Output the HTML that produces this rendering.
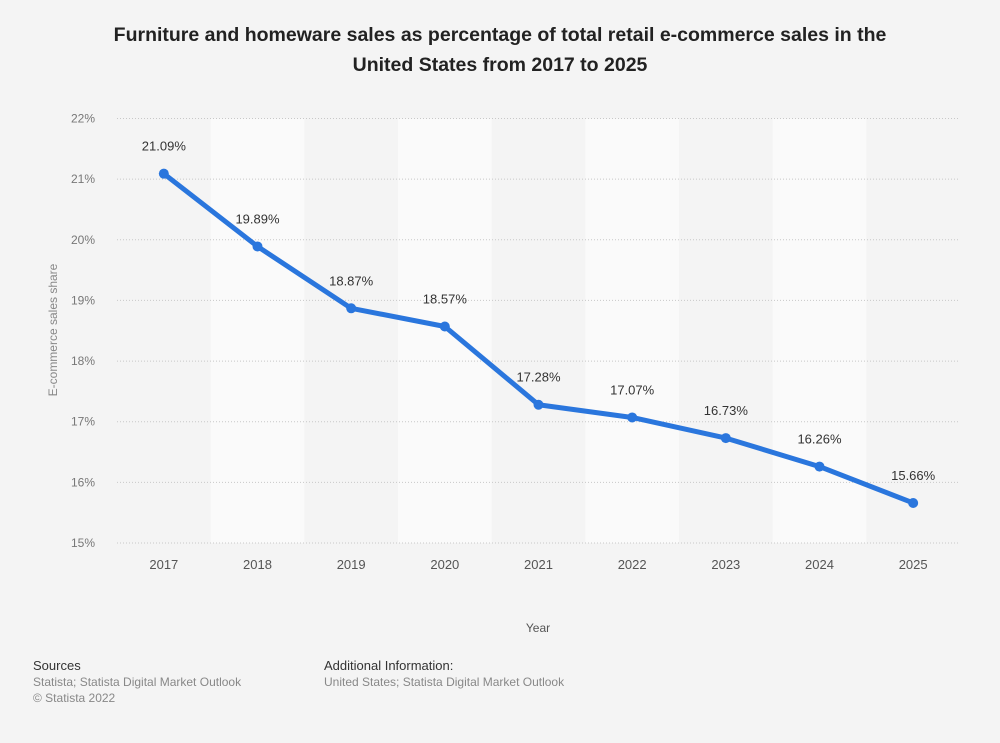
<!DOCTYPE html>
<html><head><meta charset="utf-8"><style>
body{margin:0;background:#f4f4f4;font-family:"Liberation Sans",Arial,sans-serif;}
#wrap{position:relative;width:1000px;height:743px;overflow:hidden;background:#f4f4f4;}
h1{position:absolute;left:0;top:20px;width:1000px;margin:0;text-align:center;font-size:19.5px;line-height:30px;font-weight:bold;color:#222;}
.ft{position:absolute;font-size:12px;color:#888;line-height:16px;}
.ft b{font-weight:normal;color:#333;font-size:13px;}
</style></head><body>
<div id="wrap">
<h1>Furniture and homeware sales as percentage of total retail e-commerce sales in the<br>United States from 2017 to 2025</h1>
<svg id="chart" width="1000" height="743" style="position:absolute;left:0;top:0"></svg>
<div class="ft" style="left:33px;top:658px"><b>Sources</b><br>Statista; Statista Digital Market Outlook<br>© Statista 2022</div>
<div class="ft" style="left:324px;top:658px"><b>Additional Information:</b><br>United States; Statista Digital Market Outlook</div>
</div>
<script>
const categories=["2017","2018","2019","2020","2021","2022","2023","2024","2025"];
const values=[21.09,19.89,18.87,18.57,17.28,17.07,16.73,16.26,15.66];
const valueLabels=["21.09%","19.89%","18.87%","18.57%","17.28%","17.07%","16.73%","16.26%","15.66%"];
const yTicks=[15,16,17,18,19,20,21,22];
const svg=document.getElementById('chart');
const NS='http://www.w3.org/2000/svg';
const L=117,R=960,T=118.5,B=543;
const band=(R-L)/categories.length;
const x=i=>L+band*(i+0.5);
const y=v=>B-(v-15)/(22-15)*(B-T);
function mk(t,a){const e=document.createElementNS(NS,t);for(const k in a)e.setAttribute(k,a[k]);svg.appendChild(e);return e;}
categories.forEach((c,i)=>{if(i%2==1){const r=mk('rect',{x:L+band*i,y:T,width:band,height:B-T,fill:'#fafafa'});

}});
yTicks.forEach(t=>{const l=mk('line',{x1:L,x2:R,y1:y(t),y2:y(t),stroke:'#c8c8c8','stroke-dasharray':'1,2'});


const tx=mk('text',{x:95,y:y(t)+4,'text-anchor':'end','font-size':'12',fill:'#777','font-family':'Liberation Sans'});tx.textContent=t+'%';

});
categories.forEach((c,i)=>{const tx=mk('text',{x:x(i),y:569,'text-anchor':'middle','font-size':'13',fill:'#555','font-family':'Liberation Sans'});tx.textContent=c;

});
const yt=mk('text',{transform:'translate(57,330) rotate(-90)','text-anchor':'middle','font-size':'12',fill:'#888','font-family':'Liberation Sans'});yt.textContent='E-commerce sales share';


const xt=mk('text',{x:538,y:632,'text-anchor':'middle','font-size':'12',fill:'#555','font-family':'Liberation Sans'});xt.textContent='Year';


const pl=mk('polyline',{points:values.map((v,i)=>x(i)+','+y(v)).join(' '),fill:'none',stroke:'#2a76dd','stroke-width':'5','stroke-linejoin':'round'});


values.forEach((v,i)=>{const c=mk('circle',{cx:x(i),cy:y(v),r:5,fill:'#2a76dd'});


const tx=mk('text',{x:x(i),y:y(v)-23,'text-anchor':'middle','font-size':'13',fill:'#333','font-family':'Liberation Sans'});tx.textContent=valueLabels[i];

});
</script>
</body></html>
